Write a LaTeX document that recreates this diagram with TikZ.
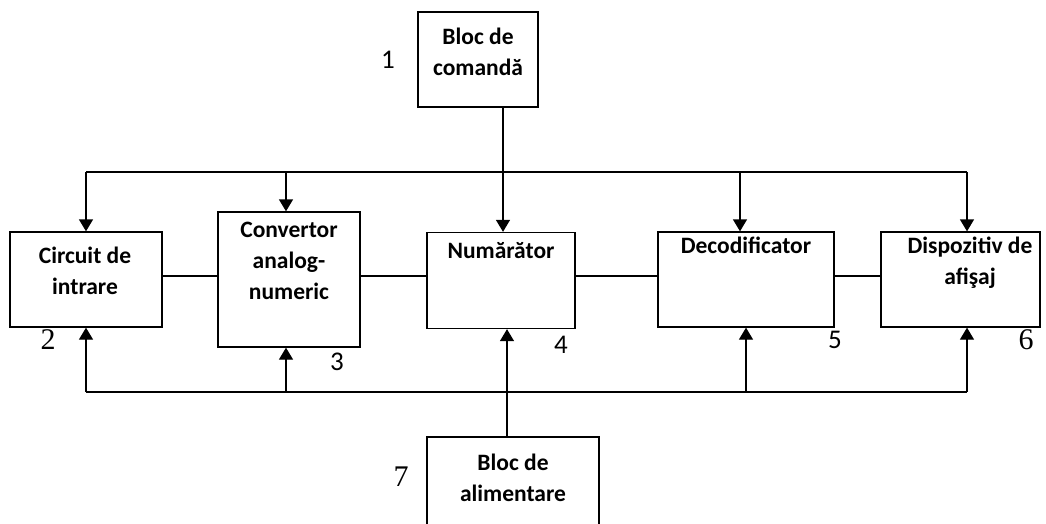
\documentclass[tikz,border=0pt]{standalone}
\usepackage{fontspec}
\setmainfont{Carlito}
\newfontfamily\numserif{Liberation Serif}
\usetikzlibrary{arrows.meta}
\tikzstyle{arrow} = [line width=1.3pt,-{Triangle[width=14pt,length=12pt]}]
\tikzstyle{wire} = [line width=1.3pt]
\tikzstyle{blk} = [draw, line width=1.3pt, rectangle, inner sep=0pt]
\tikzstyle{lbl} = [align=center, inner sep=0pt, anchor=base, font=\bfseries\fontsize{23.5}{31}\selectfont]
\tikzstyle{nums} = [inner sep=0pt, font=\fontsize{27}{30}\selectfont]
\tikzstyle{numt} = [inner sep=0pt, font=\numserif\fontsize{30}{32}\selectfont]

\begin{document}
\begin{tikzpicture}[x=1pt, y=-1pt]
        \useasboundingbox (0,0) rectangle (1046,524);

        % Blocks
        \node[blk, minimum width=120pt, minimum height=95pt] (cmd) at (478,59.5) {};
        \node[blk, minimum width=152pt, minimum height=95pt] (circ) at (86,279.5) {};
        \node[blk, minimum width=142pt, minimum height=135pt] (conv) at (289,279.5) {};
        \node[blk, minimum width=148pt, minimum height=96pt] (num) at (501,280.5) {};
        \node[blk, minimum width=176pt, minimum height=95pt] (dec) at (746,279.5) {};
        \node[blk, minimum width=159pt, minimum height=95pt] (disp) at (960.5,279.5) {};
        \node[blk, minimum width=172pt, minimum height=110pt] (alim) at (513,492) {};

        % Texts (base = last line)
        \node[lbl] (cmdtxt) at (478,76) {Bloc de\\comandă};
        \node[lbl] (circtxt) at (85,294) {Circuit de\\intrare};
        \node[lbl] (convtxt) at (289,299) {Convertor\\analog-\\numeric};
        \node[lbl] (numtxt) at (501,258) {Numărător};
        \node[lbl] (dectxt) at (746,253) {Decodificator};
        \node[lbl] (disptxt) at (970,284) {Dispozitiv de\\afişaj};
        \node[lbl] (alimtxt) at (513,501) {Bloc de\\alimentare};

        % Numbers
        \node[nums] (n1) at (388,60) {1};
        \node[numt] (n2) at (48,340) {2};
        \node[nums] (n3) at (337,362) {3};
        \node[nums] (n4) at (561,345) {4};
        \node[nums] (n5) at (835,340) {5};
        \node[numt] (n6) at (1026,340) {6};
        \node[numt] (n7) at (401,477) {7};

        \coordinate (tl) at (86,172);
        \coordinate (tr) at (967,172);
        \coordinate (bl) at (86,392);
        \coordinate (br) at (967,392);
        \coordinate (row) at (0,276);

        % Command bus
        \draw[wire] (tl) -- (tr);
        \draw[arrow] ([xshift=25pt]cmd.south) -- ([xshift=2pt]num.north);
        \draw[arrow] (tl) -- (circ.north);
        \draw[arrow] ([xshift=-3pt]conv.north |- tl) -- ([xshift=-3pt]conv.north);
        \draw[arrow] ([xshift=-6pt]dec.north |- tl) -- ([xshift=-6pt]dec.north);
        \draw[arrow] (tr) -- (tr |- disp.north);

        % Supply bus
        \draw[wire] (bl) -- (br);
        \draw[arrow] (bl) -- (circ.south);
        \draw[arrow] ([xshift=-3pt]conv.south |- bl) -- ([xshift=-3pt]conv.south);
        \draw[arrow] (dec.south |- bl) -- (dec.south);
        \draw[arrow] (br) -- (br |- disp.south);
        \draw[arrow] ([xshift=-6pt]alim.north) -- ([xshift=6pt]num.south);

        % Chain
        \draw[wire] (circ.east |- row) -- (conv.west |- row);
        \draw[wire] (conv.east |- row) -- (num.west |- row);
        \draw[wire] (num.east |- row) -- (dec.west |- row);
        \draw[wire] (dec.east |- row) -- (disp.west |- row);
      \end{tikzpicture}
\end{document}
